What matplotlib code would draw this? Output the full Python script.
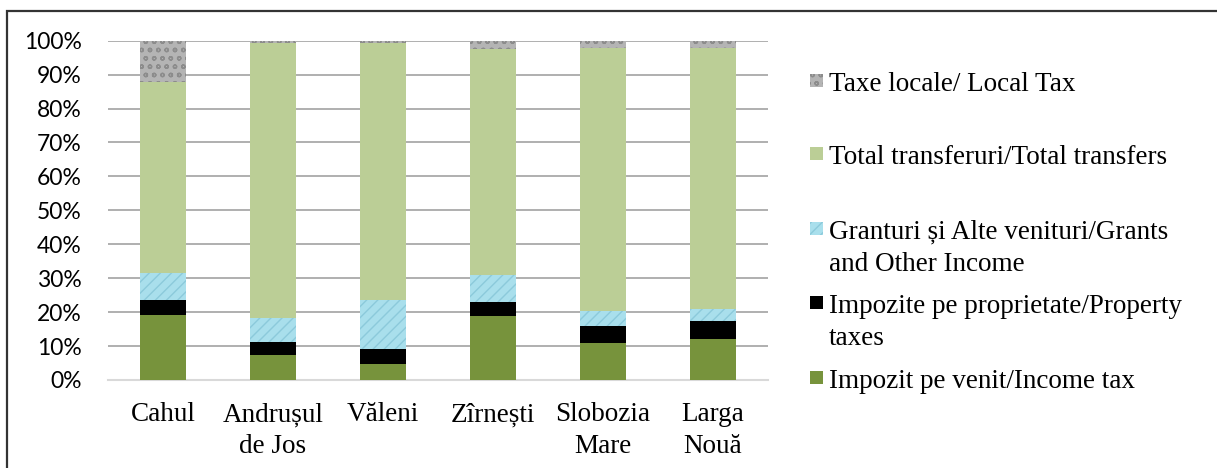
import matplotlib.pyplot as plt
import numpy as np
from matplotlib.patches import Rectangle
from matplotlib.ticker import PercentFormatter

villages = ['Cahul', 'Andrușul\nde Jos', 'Văleni', 'Zîrnești', 'Slobozia\nMare', 'Larga\nNouă']

# shares of local budget revenue, %
income_tax = [19.2, 7.4, 4.7, 18.9, 10.9, 12.1]
property_tax = [4.4, 3.8, 4.4, 4.1, 5.0, 5.3]
grants = [7.8, 7.0, 14.5, 7.9, 4.4, 3.5]
transfers = [56.5, 81.0, 75.8, 66.6, 77.6, 77.0]
local_tax = [12.1, 0.8, 0.6, 2.5, 2.1, 2.1]

labels = ['Impozit pe venit/Income tax',
          'Impozite pe proprietate/Property\ntaxes',
          'Granturi și Alte venituri/Grants\nand Other Income',
          'Total transferuri/Total transfers',
          'Taxe locale/ Local Tax']

series = [income_tax, property_tax, grants, transfers, local_tax]
faces = ['#77933c', '#000000', '#a9dfec', '#bbce96', '#b4b4b4']
hatch_cols = ['#77933c', '#000000', '#8ccadb', '#bbce96', '#8c8c8c']
hatches = [None, None, '///', None, 'oo']

W, H = 1217, 468
fig = plt.figure(figsize=(W / 100, H / 100), dpi=100)
ax = fig.add_axes([108 / W, 1 - 380 / H, (768 - 108) / W, (380 - 40.7) / H])

x = np.arange(len(villages))
bottom = np.zeros(len(villages))
for vals, fc, hc, ht in zip(series, faces, hatch_cols, hatches):
    ax.bar(x, vals, 0.41, bottom=bottom, color=fc, edgecolor=hc,
           linewidth=0, hatch=ht, zorder=3)
    bottom += np.array(vals)

ax.set_xlim(-0.5, len(villages) - 0.5)
ax.set_ylim(0, 100)
ax.set_yticks(np.arange(0, 101, 10))
ax.yaxis.set_major_formatter(PercentFormatter(100, decimals=0))
ax.grid(axis='y', color='#9a9a9a', linewidth=1.1, zorder=0)
ax.set_axisbelow(True)
for s in ['top', 'right', 'left']:
    ax.spines[s].set_visible(False)
ax.spines['bottom'].set_color('#d9d9d9')
ax.spines['bottom'].set_linewidth(1.5)
ax.spines['bottom'].set_zorder(1)

ax.set_xticks(x)
ax.set_xticklabels(villages, family='Liberation Serif', fontsize=19.5,
                   linespacing=1.35)
ax.tick_params(axis='x', length=0, pad=16)
ax.tick_params(axis='y', length=0, pad=19, labelsize=16.5)
for t in ax.get_yticklabels():
    t.set_family('Lato')

# legend, drawn by hand to follow the original spacing
leg_y = [377, 302, 228, 153, 80]
for lab, fc, hc, ht, yy in zip(labels, faces, hatch_cols, hatches, leg_y):
    fig.add_artist(Rectangle((810 / W, 1 - (yy + 6.5) / H), 13 / W, 13 / H,
                             transform=fig.transFigure, facecolor=fc,
                             edgecolor=hc, linewidth=0, hatch=ht))
    fig.text(829 / W, 1 - (yy - 8) / H, lab, family='Liberation Serif',
             fontsize=19.5, va='top', ha='left', linespacing=1.35)

# chart frame
fig.add_artist(Rectangle((7 / W, -0.1), 1.2, 1.1 - 11 / H,
                         transform=fig.transFigure, fill=False,
                         edgecolor='#333333', linewidth=1.6))

fig.savefig('out.png', dpi=100)
